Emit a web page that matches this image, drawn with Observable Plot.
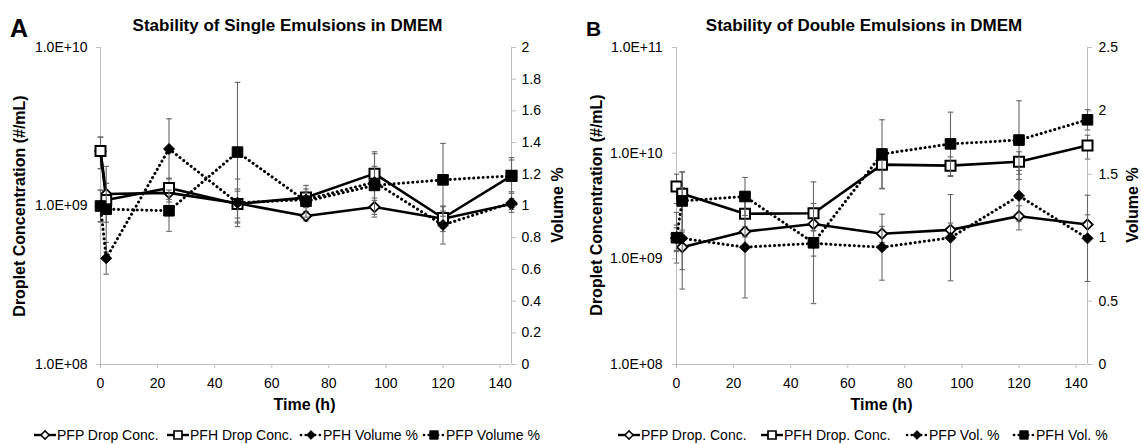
<!DOCTYPE html>
<html><head><meta charset="utf-8">
<script src="https://cdn.jsdelivr.net/npm/d3@7"></script>
<script src="https://cdn.jsdelivr.net/npm/@observablehq/plot@0.6"></script>
<style>
body{margin:0;background:#fff;}
#root{position:relative;width:1141px;height:444px;overflow:hidden;background:#fff;font-family:"Liberation Sans",Arial,sans-serif;}
#root > svg, #root > .plotwrap{position:absolute;top:0;}
</style></head><body><div id="root"></div>
<script>
// ---------- shared data ----------
const times = [0, 2, 24, 48, 72, 96, 120, 144];
const xDomain = [0, 144];
const xTicks = [0, 20, 40, 60, 80, 100, 120, 140];
const xLabel = "Time (h)";
const yLabelLeft = "Droplet Concentration (#/mL)";
const yLabelRight = "Volume %";

// ---------- Panel A ----------
const aLetter = "A";
const aTitle = "Stability of Single Emulsions in DMEM";
const aPfpConc    = [2.22e9, 1.19e9, 1.21e9, 1.04e9, 0.865e9, 0.985e9, 0.83e9, 1.03e9];
const aPfpConcErr = [0.5e9, 0.2e9, 0.15e9, 0.2e9, 0.06e9, 0.1e9, 0.1e9, 0.08e9];
const aPfhConc    = [2.22e9, 1.09e9, 1.30e9, 1.03e9, 1.13e9, 1.60e9, 0.84e9, 1.55e9];
const aPfhConcErr = [0.5e9, 0.3e9, 0.2e9, 0.25e9, 0.15e9, 0.6e9, 0.15e9, 0.47e9];
const aPfhVol     = [1.0, 0.67, 1.36, 1.02, 1.04, 1.15, 0.88, 1.02];
const aPfhVolErr  = [0.1, 0.1, 0.19, 0.15, 0.05, 0.1, 0.12, 0.06];
const aPfpVol     = [1.0, 0.98, 0.97, 1.34, 1.03, 1.13, 1.165, 1.19];
const aPfpVolErr  = [0.1, 0.27, 0.13, 0.44, 0.1, 0.2, 0.23, 0.1];
const aConcDomain = [1e8, 1e10];
const aConcTicks = [1e8, 1e9, 1e10];
const aConcTickLabels = ["1.0E+08", "1.0E+09", "1.0E+10"];
const aVolDomain = [0, 2];
const aVolTicks = [0, 0.2, 0.4, 0.6, 0.8, 1, 1.2, 1.4, 1.6, 1.8, 2];
const aVolTickLabels = ["0", "0.2", "0.4", "0.6", "0.8", "1", "1.2", "1.4", "1.6", "1.8", "2"];
const aLegend = ["PFP Drop Conc.", "PFH Drop Conc.", "PFH Volume %", "PFP Volume %"];

// ---------- Panel B ----------
const bLetter = "B";
const bTitle = "Stability of Double Emulsions in DMEM";
const bPfpConc    = [1.57e9, 1.29e9, 1.81e9, 2.14e9, 1.73e9, 1.88e9, 2.53e9, 2.11e9];
const bPfpConcErr = [0.4e9, 0.5e9, 0.2e9, 0.3e9, 0.3e9, 0.3e9, 0.65e9, 0.5e9];
const bPfhConc    = [4.83e9, 4.12e9, 2.67e9, 2.70e9, 7.79e9, 7.62e9, 8.31e9, 11.8e9];
const bPfhConcErr = [1.5e9, 2.5e9, 1.0e9, 0.64e9, 3.2e9, 1.6e9, 2.0e9, 3.0e9];
const bPfpVol     = [1.0, 0.995, 0.925, 0.955, 0.925, 1.0, 1.33, 0.995];
const bPfpVolErr  = [0.2, 0.4, 0.4, 0.1, 0.26, 0.34, 0.2, 0.34];
const bPfhVol     = [1.0, 1.29, 1.325, 0.96, 1.66, 1.74, 1.77, 1.93];
const bPfhVolErr  = [0.1, 0.23, 0.15, 0.48, 0.27, 0.25, 0.31, 0.08];
const bConcDomain = [1e8, 1e11];
const bConcTicks = [1e8, 1e9, 1e10, 1e11];
const bConcTickLabels = ["1.0E+08", "1.0E+09", "1.0E+10", "1.0E+11"];
const bVolDomain = [0, 2.5];
const bVolTicks = [0, 0.5, 1, 1.5, 2, 2.5];
const bVolTickLabels = ["0", "0.5", "1", "1.5", "2", "2.5"];
const bLegend = ["PFP Drop. Conc.", "PFH Drop. Conc.", "PFP Vol. %", "PFH Vol. %"];

// ---------- styles ----------
const AX = "#bdbdbd";
const ERR = "#666";
const FONT = "'Liberation Sans', Arial, sans-serif";
const DOTS = "0.1,4.6";
const SYM = {
  square: {draw(c, s) { const r = Math.sqrt(s / Math.PI); c.moveTo(-r, -r); c.lineTo(r, -r); c.lineTo(r, r); c.lineTo(-r, r); c.closePath(); }},
  diamond: {draw(c, s) { const r = Math.sqrt(s / Math.PI); c.moveTo(0, -r); c.lineTo(r, 0); c.lineTo(0, r); c.lineTo(-r, 0); c.closePath(); }},
  cap: {draw(c, s) { const r = Math.sqrt(s / Math.PI); c.moveTo(-r, 0); c.lineTo(r, 0); }}
};
const STYLE = {
  openDiamond: {symbol: SYM.diamond, r: 5.2, fill: "white", stroke: "black", strokeWidth: 1.8, dotted: false},
  openSquare: {symbol: SYM.square, r: 5, fill: "white", stroke: "black", strokeWidth: 2, dotted: false},
  filledDiamond: {symbol: SYM.diamond, r: 5.5, fill: "black", stroke: "black", strokeWidth: 1, dotted: true},
  filledSquare: {symbol: SYM.square, r: 5.3, fill: "black", stroke: "black", strokeWidth: 1, dotted: true}
};

function rows(values, errs) {
  return times.map((t, i) => ({t, v: values[i], lo: values[i] - errs[i], hi: values[i] + errs[i]}));
}
function seriesMarks(list) {
  const errMarks = [], lineMarks = [], dotMarks = [];
  for (const s of list) {
    const d = rows(s.values, s.errs);
    const st = STYLE[s.style];
    errMarks.push(
      Plot.ruleX(d, {x: "t", y1: "lo", y2: "hi", stroke: ERR, strokeWidth: 1.1}),
      Plot.dot(d, {x: "t", y: "hi", symbol: SYM.cap, r: 2.8, stroke: ERR, fill: "none", strokeWidth: 1.1}),
      Plot.dot(d, {x: "t", y: "lo", symbol: SYM.cap, r: 2.8, stroke: ERR, fill: "none", strokeWidth: 1.1})
    );
    lineMarks.push(st.dotted
      ? Plot.line(d, {x: "t", y: "v", stroke: "black", strokeWidth: 3, strokeDasharray: DOTS, strokeLinecap: "round", strokeLinejoin: "round"})
      : Plot.line(d, {x: "t", y: "v", stroke: "black", strokeWidth: 2.6, strokeLinejoin: "round"}));
    dotMarks.push(Plot.dot(d, {x: "t", y: "v", symbol: st.symbol, r: st.r, fill: st.fill, stroke: st.stroke, strokeWidth: st.strokeWidth}));
  }
  return [...errMarks, ...lineMarks, ...dotMarks];
}

function makePanel(cfg) {
  const root = document.getElementById("root");
  const common = {
    width: cfg.width, height: 415, marginTop: 47, marginBottom: 51, marginLeft: 100,
    marginRight: cfg.width - 100 - 411,
    style: {background: "transparent", overflow: "visible", fontFamily: FONT, fontSize: "14px", color: "black"}
  };
  const conc = Plot.plot({
    ...common,
    x: {domain: xDomain},
    y: {type: "log", domain: cfg.concDomain},
    marks: [
      Plot.ruleX(xDomain, {stroke: AX}),
      Plot.ruleY([cfg.concDomain[0]], {stroke: AX}),
      Plot.axisX({ticks: xTicks, tickSize: 4, tickPadding: 10, stroke: AX, fill: "black", label: null, tickFormat: d => String(d)}),
      Plot.axisY({ticks: cfg.concTicks, tickSize: 4, tickPadding: cfg.leftPad, stroke: AX, fill: "black", label: null,
        tickFormat: d => cfg.concTickLabels[cfg.concTicks.indexOf(d)]}),
      ...seriesMarks(cfg.concSeries)
    ]
  });
  const vol = Plot.plot({
    ...common,
    x: {domain: xDomain, axis: null},
    y: {domain: cfg.volDomain},
    marks: [
      Plot.axisY({anchor: "right", ticks: cfg.volTicks, tickSize: 4, tickPadding: cfg.rightPad, stroke: AX, fill: "black", label: null,
        tickFormat: d => cfg.volTickLabels[cfg.volTicks.indexOf(d)]}),
      ...seriesMarks(cfg.volSeries)
    ]
  });
  for (const p of [conc, vol]) {
    const w = document.createElement("div");
    w.className = "plotwrap";
    w.style.left = cfg.left + "px";
    w.appendChild(p);
    root.appendChild(w);
  }
}

makePanel({
  left: 0, width: 570, leftPad: 9, rightPad: 6,
  concDomain: aConcDomain, concTicks: aConcTicks, concTickLabels: aConcTickLabels,
  volDomain: aVolDomain, volTicks: aVolTicks, volTickLabels: aVolTickLabels,
  concSeries: [
    {values: aPfpConc, errs: aPfpConcErr, style: "openDiamond"},
    {values: aPfhConc, errs: aPfhConcErr, style: "openSquare"}
  ],
  volSeries: [
    {values: aPfhVol, errs: aPfhVolErr, style: "filledDiamond"},
    {values: aPfpVol, errs: aPfpVolErr, style: "filledSquare"}
  ]
});
makePanel({
  left: 576, width: 565, leftPad: 10, rightPad: 7,
  concDomain: bConcDomain, concTicks: bConcTicks, concTickLabels: bConcTickLabels,
  volDomain: bVolDomain, volTicks: bVolTicks, volTickLabels: bVolTickLabels,
  concSeries: [
    {values: bPfpConc, errs: bPfpConcErr, style: "openDiamond"},
    {values: bPfhConc, errs: bPfhConcErr, style: "openSquare"}
  ],
  volSeries: [
    {values: bPfpVol, errs: bPfpVolErr, style: "filledDiamond"},
    {values: bPfhVol, errs: bPfhVolErr, style: "filledSquare"}
  ]
});

// ---------- titles, axis labels, legends (overlay) ----------
const svg = d3.select("#root").append("svg")
  .attr("width", 1141).attr("height", 444)
  .style("left", "0px").style("pointer-events", "none")
  .style("font-family", FONT);

function txt(s, x, y, size, opts = {}) {
  const t = svg.append("text").text(s).attr("x", x).attr("y", y)
    .attr("font-size", size).attr("font-weight", opts.bold ? "bold" : null)
    .attr("text-anchor", opts.anchor || "start").attr("fill", "black");
  if (opts.rotate) t.attr("transform", `rotate(-90 ${x} ${y})`);
  return t;
}
txt(aLetter, 10, 37, 25, {bold: true});
txt(bLetter, 586, 36, 21, {bold: true});
txt(aTitle, 287.5, 30.5, 17, {bold: true, anchor: "middle"});
txt(bTitle, 864, 30.5, 17, {bold: true, anchor: "middle"});
txt(yLabelLeft, 25, 206, 16, {bold: true, anchor: "middle", rotate: true});
txt(yLabelLeft, 602, 205, 16, {bold: true, anchor: "middle", rotate: true});
txt(yLabelRight, 563, 205, 16, {bold: true, anchor: "middle", rotate: true});
txt(yLabelRight, 1138, 205, 16, {bold: true, anchor: "middle", rotate: true});
txt(xLabel, 304.5, 410, 16, {bold: true, anchor: "middle"});
txt(xLabel, 881.5, 409.5, 16, {bold: true, anchor: "middle"});

function legendItem(x0, styleKey, label) {
  const st = STYLE[styleKey];
  const y = 435;
  if (st.dotted) {
    svg.append("line").attr("x1", x0 + 1).attr("x2", x0 + 22).attr("y1", y).attr("y2", y)
      .attr("stroke", "black").attr("stroke-width", 2.6)
      .attr("stroke-dasharray", "0.1,4.6").attr("stroke-linecap", "round");
  } else {
    svg.append("line").attr("x1", x0).attr("x2", x0 + 22).attr("y1", y).attr("y2", y)
      .attr("stroke", "black").attr("stroke-width", 2.4);
  }
  const sz = (st.r * 0.8) ** 2 * Math.PI;
  svg.append("path").attr("d", d3.symbol(st.symbol, sz)())
    .attr("transform", `translate(${x0 + 11},${y})`)
    .attr("fill", st.fill).attr("stroke", st.stroke).attr("stroke-width", st.strokeWidth * 0.85);
  txt(label, x0 + 23, 440, 14);
}
const aLegendStyles = ["openDiamond", "openSquare", "filledDiamond", "filledSquare"];
const aLegendX = [34, 167, 300, 423];
aLegend.forEach((l, i) => legendItem(aLegendX[i], aLegendStyles[i], l));
const bLegendStyles = ["openDiamond", "openSquare", "filledDiamond", "filledSquare"];
const bLegendX = [618, 761, 906, 1013];
bLegend.forEach((l, i) => legendItem(bLegendX[i], bLegendStyles[i], l));
</script></body></html>
